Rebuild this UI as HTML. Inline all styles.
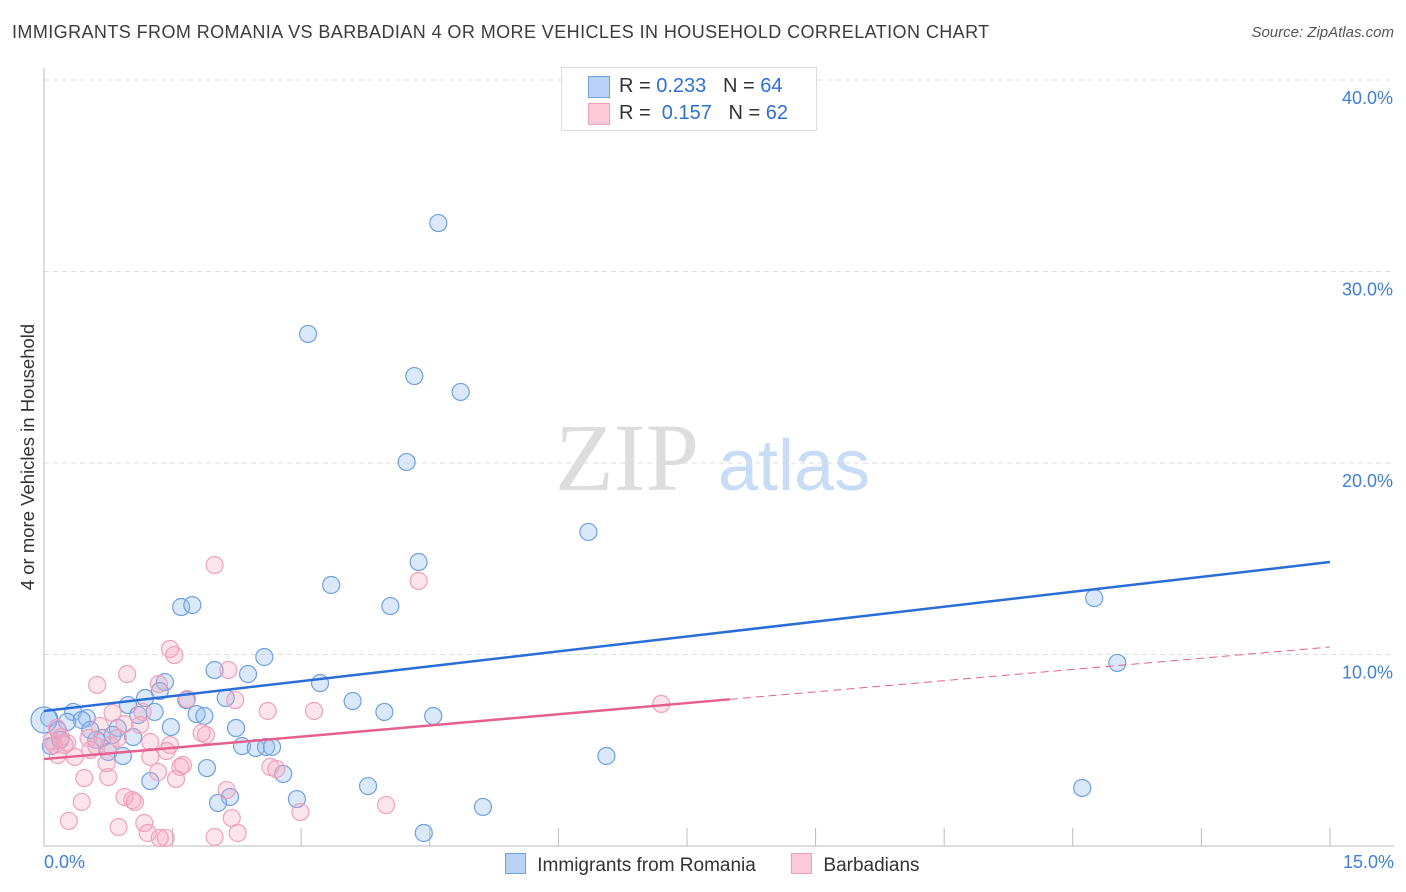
<!DOCTYPE html>
<html><head><meta charset="utf-8"><style>
body{margin:0;background:#fff;font-family:"Liberation Sans",sans-serif;}
#wrap{position:relative;width:1406px;height:892px;overflow:hidden;}
.t{position:absolute;white-space:nowrap;}
</style></head><body>
<div id="wrap">
<div class="t" style="left:12px;top:22px;font-size:18px;letter-spacing:0.42px;color:#3c3c3c;">IMMIGRANTS FROM ROMANIA VS BARBADIAN 4 OR MORE VEHICLES IN HOUSEHOLD CORRELATION CHART</div>
<div class="t" style="right:12px;top:24px;font-size:15px;color:#555;font-style:italic;">Source: ZipAtlas.com</div>
<div class="t" style="left:28px;top:457px;font-size:18.5px;color:#333;transform:translate(-50%,-50%) rotate(-90deg);">4 or more Vehicles in Household</div>
<svg id="svg" width="1406" height="892" style="position:absolute;left:0;top:0">
<text x="555" y="490" font-family="Liberation Serif,serif" font-size="96" fill="#ddd">ZIP</text>
<text x="718" y="490" font-family="Liberation Sans,sans-serif" font-size="72" fill="#c8dcf5">atlas</text>
</svg>
<div style="position:absolute;left:561px;top:67px;width:254px;height:62px;border:1px solid #ddd;background:#fff;font-size:20px;color:#333;">
<div style="position:absolute;left:26px;top:8px;width:20px;height:20px;background:#b8d3f5;border:1px solid #6fa0e0;"></div>
<div class="t" style="left:57px;top:7px;">R = <span style="color:#2d6fd6">0.233</span>&nbsp;&nbsp;&nbsp;N = <span style="color:#2d6fd6">64</span></div>
<div style="position:absolute;left:26px;top:35px;width:20px;height:20px;background:#fbc9d8;border:1px solid #f0a0bb;"></div>
<div class="t" style="left:57px;top:34px;">R = &nbsp;<span style="color:#2d6fd6">0.157</span>&nbsp;&nbsp;&nbsp;N = <span style="color:#2d6fd6">62</span></div>
</div>
<div class="t" style="left:44px;top:852px;font-size:18px;color:#3f7fd8;">0.0%</div>
<div class="t" style="right:12px;top:852px;font-size:18px;color:#3f7fd8;">15.0%</div>
<div style="position:absolute;left:505px;top:853px;font-size:19px;color:#333;">
<span style="display:inline-block;width:19px;height:19px;background:#b8d3f5;border:1px solid #6fa0e0;vertical-align:-3px;"></span>
<span style="margin-left:6px">Immigrants from Romania</span>
<span style="display:inline-block;width:19px;height:19px;background:#fbc9d8;border:1px solid #f0a0bb;vertical-align:-3px;margin-left:30px;"></span>
<span style="margin-left:6px">Barbadians</span>
</div>
</div>
<script>
const yTicks=[10,20,30,40];
const xTicks=[1.5,3,4.5,6,7.5,9,10.5,12,13.5,15];
const blueX=[4.60,3.08,4.32,4.86,4.23,6.35,4.37,3.35,4.04,1.60,1.73,12.25,12.52,2.57,1.99,2.38,1.41,3.22,1.35,1.18,2.12,3.60,0.98,1.66,0.34,0.50,1.29,1.10,3.97,1.78,1.87,4.54,1.48,2.24,0.44,0.27,0.06,0.16,0.86,0.68,1.04,0.61,2.31,2.47,2.59,2.66,0.75,0.92,6.56,1.90,2.79,1.24,3.78,12.11,2.17,2.03,2.95,5.12,4.43,0.08,0.0,0.19,0.54,0.80];
const blueY=[32.53,26.74,24.54,23.71,20.05,16.40,14.83,13.63,12.53,12.48,12.58,12.95,9.56,9.87,9.19,8.98,8.56,8.51,8.09,7.73,7.73,7.57,7.36,7.62,7.00,6.68,7.00,6.84,7.00,6.89,6.79,6.79,6.21,6.16,6.58,6.48,6.68,6.06,6.16,5.64,5.69,5.54,5.22,5.12,5.17,5.17,4.91,4.70,4.70,4.07,3.76,3.39,3.13,3.03,2.56,2.25,2.45,2.04,0.68,5.22,6.58,5.54,6.06,5.80];
const pinkX=[1.99,4.37,1.47,1.52,0.97,0.62,1.34,2.15,1.67,2.23,7.20,2.61,3.15,0.80,1.15,1.12,1.84,1.89,0.86,0.20,0.09,0.27,0.52,0.61,0.12,0.36,1.43,1.24,1.62,1.59,0.73,2.64,2.71,1.33,0.47,0.75,1.54,2.13,0.94,1.03,1.06,0.44,2.99,3.99,2.19,0.29,1.17,0.87,2.26,1.99,1.35,1.42,1.21,0.24,0.15,0.65,0.94,1.24,1.47,0.16,0.54,0.77];
const pinkY=[14.67,13.84,10.29,9.97,8.98,8.41,8.46,9.19,7.68,7.62,7.42,7.05,7.05,6.95,7.00,6.32,5.90,5.80,5.64,5.69,5.48,5.38,5.64,5.22,5.27,4.65,4.96,4.65,4.23,4.13,4.33,4.13,4.02,3.86,3.55,3.60,3.50,2.92,2.56,2.40,2.30,2.30,1.78,2.14,1.46,1.31,1.20,0.99,0.68,0.47,0.42,0.42,0.68,5.27,6.16,6.27,6.37,5.43,5.27,4.75,5.01,5.27];
const blueLine=[7.05,14.83];
const pinkLine=[4.54,10.39];
const pinkSolidEnd=8.0;
const X=v=>44+v*85.73, Y=v=>846-v*19.15;
const svg=document.getElementById('svg'),NS='http://www.w3.org/2000/svg';
function mk(t,a){const e=document.createElementNS(NS,t);for(const k in a)e.setAttribute(k,a[k]);svg.appendChild(e);return e;}
for(const v of yTicks){
 const l=mk('line',{x1:44,x2:1394,y1:Y(v),y2:Y(v),stroke:'#ddd','stroke-dasharray':'5,4'});
 
 
 const t=mk('text',{x:1393,y:Y(v)+24,'text-anchor':'end','font-size':18,fill:'#3f7fd8','font-family':'Liberation Sans,sans-serif'});
 t.textContent=v.toFixed(1)+'%';
 
 
}
const ax=mk('line',{x1:44,x2:44,y1:68,y2:846,stroke:'#bbb'});


const bx=mk('line',{x1:44,x2:1394,y1:846,y2:846,stroke:'#bbb'});


for(const v of xTicks){
 const l=mk('line',{x1:X(v),x2:X(v),y1:828,y2:846,stroke:'#bbb'});
 
 
}
for(let i=0;i<blueX.length;i++){
 const c=mk('circle',{cx:X(blueX[i]),cy:Y(blueY[i]),r:i==60?13:8.5,fill:'rgba(150,190,240,0.35)',stroke:'#6fa0e0','stroke-width':1.2});
 
 
}
for(let i=0;i<pinkX.length;i++){
 const c=mk('circle',{cx:X(pinkX[i]),cy:Y(pinkY[i]),r:8.5,fill:'rgba(245,165,190,0.3)',stroke:'#f0a0bb','stroke-width':1.2});
 
 
}
const pAt=v=>pinkLine[0]+(pinkLine[1]-pinkLine[0])*v/15;
const pl=mk('line',{x1:X(0),y1:Y(pinkLine[0]),x2:X(pinkSolidEnd),y2:Y(pAt(pinkSolidEnd)),stroke:'#e5608e','stroke-width':2.5});


const pd=mk('line',{x1:X(pinkSolidEnd),y1:Y(pAt(pinkSolidEnd)),x2:X(15),y2:Y(pinkLine[1]),stroke:'#e5608e','stroke-width':1,'stroke-dasharray':'8,5'});


const bl=mk('line',{x1:X(0),y1:Y(blueLine[0]),x2:X(15),y2:Y(blueLine[1]),stroke:'#2a6dd8','stroke-width':2.5});


</script>
</body></html>
